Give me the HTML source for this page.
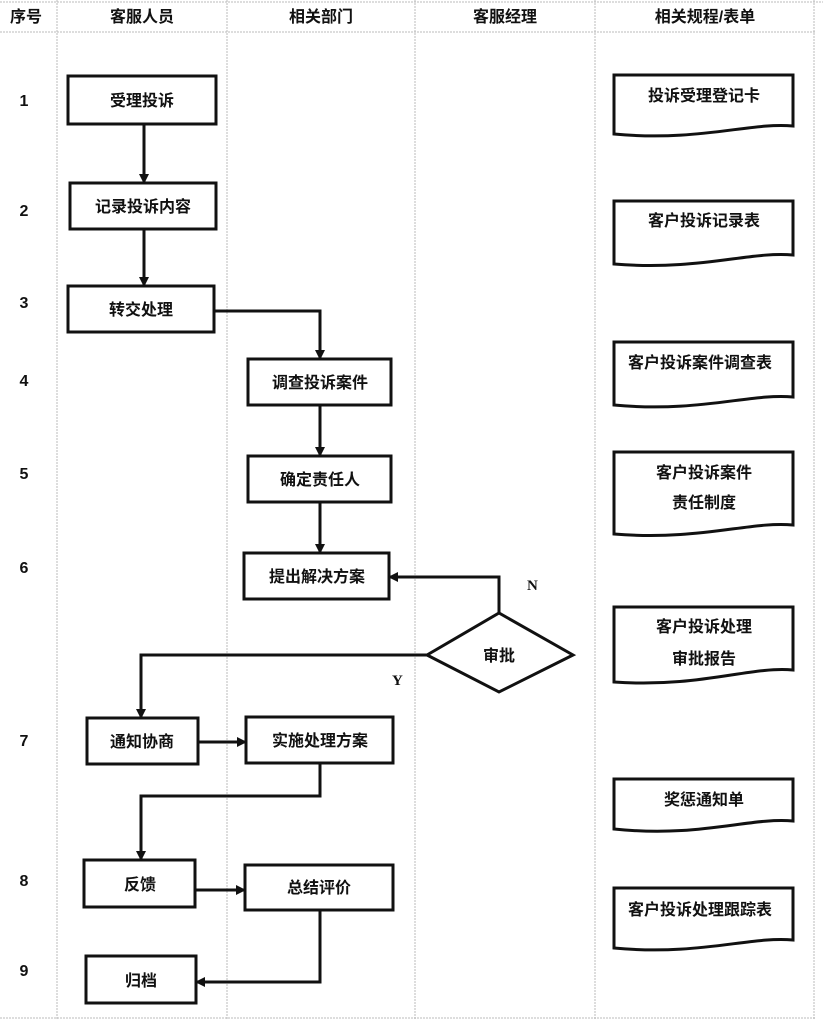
<!DOCTYPE html>
<html><head><meta charset="utf-8"><style>
html,body{margin:0;padding:0;background:#fff;}
svg{display:block;}
text{font-family:"Liberation Sans","Noto Sans CJK SC",sans-serif;font-size:16px;font-weight:bold;fill:#111;}
</style></head><body>
<svg width="823" height="1022" viewBox="0 0 823 1022" xmlns="http://www.w3.org/2000/svg">
<defs><marker id="a" markerWidth="10" markerHeight="10" refX="9" refY="5" orient="auto" markerUnits="userSpaceOnUse"><path d="M0,0 L10,5 L0,10 Z" fill="#111"/></marker></defs>
<g stroke="#bbb" stroke-width="1" stroke-dasharray="2,1" fill="none">
<line x1="0" y1="2" x2="823" y2="2"/>
<line x1="0" y1="32" x2="815" y2="32"/>
<line x1="0" y1="1018" x2="815" y2="1018"/>
<line x1="57" y1="0" x2="57" y2="1020"/>
<line x1="227" y1="0" x2="227" y2="1020"/>
<line x1="415" y1="0" x2="415" y2="1020"/>
<line x1="595" y1="0" x2="595" y2="1020"/>
<line x1="814" y1="0" x2="814" y2="1020"/>
</g>
<g text-anchor="middle">
<text x="26" y="22">序号</text><text x="142" y="22">客服人员</text><text x="321" y="22">相关部门</text><text x="505" y="22">客服经理</text><text x="705" y="22">相关规程/表单</text>
</g>
<g text-anchor="middle" style="font-size:15px">
<text x="24" y="106">1</text><text x="24" y="216">2</text><text x="24" y="308">3</text><text x="24" y="386">4</text><text x="24" y="479">5</text><text x="24" y="573">6</text><text x="24" y="746">7</text><text x="24" y="886">8</text><text x="24" y="976">9</text>
</g>
<g stroke="#111" stroke-width="3" fill="#fff">
<rect x="68" y="76" width="148" height="48"/>
<rect x="70" y="183" width="146" height="46"/>
<rect x="68" y="286" width="146" height="46"/>
<rect x="248" y="359" width="143" height="46"/>
<rect x="248" y="456" width="143" height="46"/>
<rect x="244" y="553" width="145" height="46"/>
<polygon points="427,655 499,613 573,655 499,692"/>
<rect x="87" y="718" width="111" height="46"/>
<rect x="246" y="717" width="147" height="46"/>
<rect x="84" y="860" width="111" height="47"/>
<rect x="245" y="865" width="148" height="45"/>
<rect x="86" y="956" width="110" height="47"/>
<path d="M614 75 H793 V126 C750,122 700,142 614,134 Z"/>
<path d="M614 201 H793 V255 C750,251 700,271 614,264 Z"/>
<path d="M614 342 H793 V397 C750,393 700,413 614,405 Z"/>
<path d="M614 452 H793 V525 C750,521 700,541 614,534 Z"/>
<path d="M614 607 H793 V670 C750,666 700,688 614,682 Z"/>
<path d="M614 779 H793 V821 C750,817 700,838 614,829 Z"/>
<path d="M614 888 H793 V940 C750,936 700,956 614,948 Z"/>
</g>
<g stroke="#111" stroke-width="3" fill="none" marker-end="url(#a)">
<path d="M144 124 V183"/>
<path d="M144 229 V286"/>
<path d="M214 311 H320 V359"/>
<path d="M320 405 V456"/>
<path d="M320 502 V553"/>
<path d="M499 613 V577 H389"/>
<path d="M427 655 H141 V718"/>
<path d="M198 742 H246"/>
<path d="M320 763 V796 H141 V860"/>
<path d="M195 890 H245"/>
<path d="M320 910 V982 H196"/>
</g>
<g text-anchor="middle">
<text x="142" y="106">受理投诉</text>
<text x="143" y="212">记录投诉内容</text>
<text x="141" y="315">转交处理</text>
<text x="320" y="388">调查投诉案件</text>
<text x="320" y="485">确定责任人</text>
<text x="317" y="582">提出解决方案</text>
<text x="499" y="661">审批</text>
<text x="142" y="747">通知协商</text>
<text x="320" y="746">实施处理方案</text>
<text x="140" y="890">反馈</text>
<text x="319" y="893">总结评价</text>
<text x="141" y="986">归档</text>
<text x="704" y="101">投诉受理登记卡</text>
<text x="704" y="226">客户投诉记录表</text>
<text x="700" y="368">客户投诉案件调查表</text>
<text x="704" y="478">客户投诉案件</text>
<text x="704" y="508">责任制度</text>
<text x="704" y="632">客户投诉处理</text>
<text x="704" y="664">审批报告</text>
<text x="704" y="805">奖惩通知单</text>
<text x="700" y="915">客户投诉处理跟踪表</text>
</g>
<text x="527" y="590" style="font-family:'Liberation Serif',serif;font-size:15px">N</text>
<text x="392" y="685" style="font-family:'Liberation Serif',serif;font-size:15px">Y</text>
</svg>
</body></html>
